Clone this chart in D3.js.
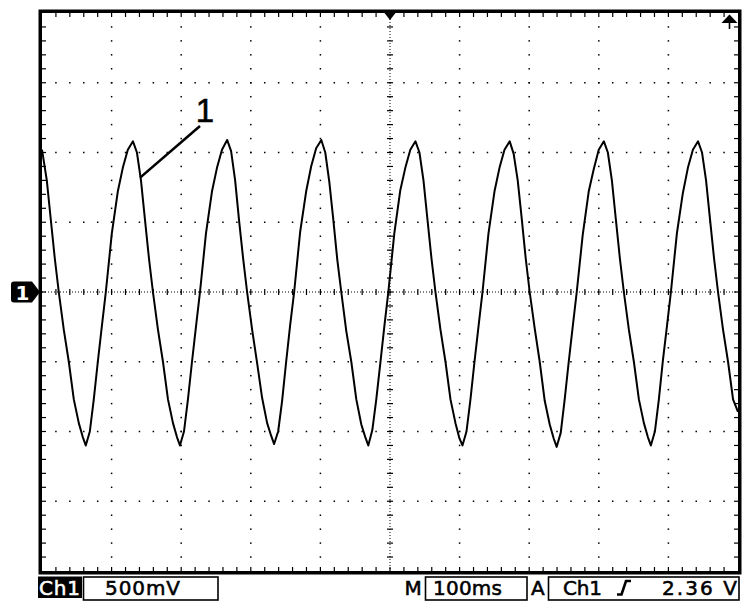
<!DOCTYPE html>
<html><head><meta charset="utf-8">
<script src="https://cdn.jsdelivr.net/npm/d3@7"></script>
<style>html,body{margin:0;padding:0;background:#fff;} svg{display:block;}</style>
</head><body>
<svg id="c" width="750" height="613"></svg>
<script>
// ---- data (time in ms from left edge, volts) ----
const sampleTimesMs = [
  0, 6.9, 12.6, 18.4, 24.1, 31.3, 38.5, 45.7, 52.9, 58.6, 62.9, 68.7, 74.4, 80.2, 85.9, 91.7, 100.3, 108.9, 116.1, 123.3,
  130.7, 136.4, 142.2, 147.9, 153.7, 159.4, 166.6, 173.8, 181.0, 188.2, 193.9, 198.2, 204.0, 209.7, 215.5, 221.2, 227.0, 235.6, 244.2, 251.4, 258.6,
  266.0, 271.7, 277.5, 283.2, 289.0, 294.7, 301.9, 309.1, 316.3, 323.5, 329.2, 333.5, 339.3, 345.0, 350.8, 356.5, 362.3, 370.9, 379.5, 386.7, 393.9,
  401.3, 407.0, 412.8, 418.5, 424.3, 430.0, 437.2, 444.4, 451.6, 458.8, 464.5, 468.8, 474.6, 480.3, 486.1, 491.8, 497.6, 506.2, 514.8, 522.0, 529.2,
  536.6, 542.3, 548.1, 553.8, 559.6, 565.3, 572.5, 579.7, 586.9, 594.1, 599.8, 604.1, 609.9, 615.6, 621.4, 627.1, 632.9, 641.5, 650.1, 657.3, 664.5,
  672.0, 677.7, 683.5, 689.2, 695.0, 700.7, 707.9, 715.1, 722.3, 729.5, 735.2, 739.5, 745.3, 751.0, 756.8, 762.5, 768.3, 776.9, 785.5, 792.7, 799.9,
  807.3, 813.0, 818.8, 824.5, 830.3, 836.0, 843.2, 850.4, 857.6, 864.8, 870.5, 874.8, 880.6, 886.3, 892.1, 897.8, 903.6, 912.2, 920.8, 928.0, 935.2,
  942.6, 948.3, 954.1, 959.8, 965.6, 971.3, 978.5, 985.7, 992.9, 1000
];
const sampleVolts = [
  1.02, 0.80, 0.52, 0.24, 0, -0.27, -0.50, -0.77, -0.94, -1.04, -1.10, -1.00, -0.77, -0.50, -0.25, 0, 0.42, 0.72, 0.89, 1.02,
  1.08, 1.00, 0.80, 0.52, 0.24, 0, -0.27, -0.50, -0.77, -0.94, -1.04, -1.10, -1.00, -0.77, -0.50, -0.25, 0, 0.42, 0.72, 0.89, 1.02,
  1.09, 1.01, 0.80, 0.51, 0.24, 0, -0.27, -0.51, -0.76, -0.94, -1.03, -1.09, -1.00, -0.78, -0.50, -0.24, 0, 0.43, 0.72, 0.90, 1.03,
  1.09, 1.00, 0.79, 0.52, 0.23, 0, -0.28, -0.50, -0.77, -0.95, -1.04, -1.10, -0.99, -0.77, -0.51, -0.25, 0, 0.42, 0.73, 0.89, 1.02,
  1.08, 1.00, 0.80, 0.52, 0.24, 0, -0.27, -0.50, -0.77, -0.94, -1.05, -1.10, -1.00, -0.77, -0.50, -0.25, 0, 0.42, 0.72, 0.89, 1.02,
  1.08, 0.99, 0.80, 0.53, 0.24, 0, -0.26, -0.50, -0.78, -0.95, -1.05, -1.11, -1.01, -0.77, -0.50, -0.25, 0, 0.41, 0.72, 0.88, 1.02,
  1.08, 1.00, 0.80, 0.52, 0.24, 0, -0.27, -0.50, -0.77, -0.94, -1.04, -1.10, -1.00, -0.77, -0.49, -0.25, 0, 0.42, 0.71, 0.89, 1.02,
  1.08, 1.00, 0.80, 0.52, 0.24, 0, -0.27, -0.50, -0.77, -0.86
];
const timeDomainMs = [0, 1000];
const voltDomain = [-2, 2];
const timeDivisions = 10, voltDivisions = 8, subdivisions = 5;
const channelLabel = "Ch1";
const voltsPerDivLabel = "500mV";
const timebaseMark = "M";
const timebaseLabel = "100ms";
const triggerMark = "A";
const trigSourceLabel = "Ch1";
const trigLevelLabel = "2.36 V";
const traceLabel = "1";

// ---- drawing ----
const svg = d3.select("#c");
const L = 42, R = 738, T = 13, B = 571;
const x = d3.scaleLinear().domain(timeDomainMs).range([L, R]);
const y = d3.scaleLinear().domain(voltDomain).range([B, T]);
const tStep = (timeDomainMs[1] - timeDomainMs[0]) / timeDivisions;
const vStep = (voltDomain[1] - voltDomain[0]) / voltDivisions;
const majorT = d3.range(timeDivisions + 1).map(i => timeDomainMs[0] + i * tStep);
const majorV = d3.range(voltDivisions + 1).map(i => voltDomain[0] + i * vStep);
const minorT = d3.range(timeDivisions * subdivisions + 1).map(i => timeDomainMs[0] + i * tStep / subdivisions);
const minorV = d3.range(voltDivisions * subdivisions + 1).map(i => voltDomain[0] + i * vStep / subdivisions);
const tMid = (timeDomainMs[0] + timeDomainMs[1]) / 2, vMid = 0;

const grid = svg.append("g").attr("fill", "#000");
majorT.slice(1, -1).filter(t => t !== tMid).forEach(t => {
  grid.selectAll(null).data(minorV.slice(1, -1)).join("rect")
    .attr("x", x(t) - 0.75).attr("y", d => y(d) - 0.75).attr("width", 1.5).attr("height", 1.5);
});
majorV.slice(1, -1).filter(v => v !== vMid).forEach(v => {
  grid.selectAll(null).data(minorT.slice(1, -1)).join("rect")
    .attr("x", d => x(d) - 0.75).attr("y", y(v) - 0.75).attr("width", 1.5).attr("height", 1.5);
});
const cross = svg.append("g").attr("stroke", "#000");
cross.append("line").attr("x1", L).attr("x2", R).attr("y1", y(vMid)).attr("y2", y(vMid))
  .attr("stroke-width", 1).attr("stroke-dasharray", "1,2");
cross.append("line").attr("y1", T).attr("y2", B).attr("x1", x(tMid)).attr("x2", x(tMid))
  .attr("stroke-width", 1).attr("stroke-dasharray", "1,2");
cross.selectAll(".tx").data(minorT.slice(1, -1)).join("line")
  .attr("x1", d => x(d)).attr("x2", d => x(d)).attr("y1", y(vMid) - 3).attr("y2", y(vMid) + 3).attr("stroke-width", 1.2);
cross.selectAll(".ty").data(minorV.slice(1, -1)).join("line")
  .attr("y1", d => y(d)).attr("y2", d => y(d)).attr("x1", x(tMid) - 3).attr("x2", x(tMid) + 3).attr("stroke-width", 1.2);
const edge = svg.append("g").attr("stroke", "#000").attr("stroke-width", 1.2);
edge.selectAll(".et").data(minorT.slice(1, -1)).join("line")
  .attr("x1", d => x(d)).attr("x2", d => x(d)).attr("y1", T).attr("y2", T + 4);
edge.selectAll(".eb").data(minorT.slice(1, -1)).join("line")
  .attr("x1", d => x(d)).attr("x2", d => x(d)).attr("y1", B - 4).attr("y2", B);
edge.selectAll(".el").data(minorV.slice(1, -1)).join("line")
  .attr("y1", d => y(d)).attr("y2", d => y(d)).attr("x1", L).attr("x2", L + 4);
edge.selectAll(".er").data(minorV.slice(1, -1)).join("line")
  .attr("y1", d => y(d)).attr("y2", d => y(d)).attr("x1", R - 4).attr("x2", R);

// trace
const pts = sampleTimesMs.map((t, i) => [t, sampleVolts[i]]);
svg.append("path").datum(pts)
  .attr("fill", "none").attr("stroke", "#000").attr("stroke-width", 2).attr("stroke-linejoin", "round")
  .attr("d", d3.line().x(d => x(d[0])).y(d => y(d[1])));

// frame
svg.append("rect").attr("x", L - 1.75).attr("y", T - 1.75).attr("width", R - L + 3.5).attr("height", B - T + 3.5)
  .attr("fill", "none").attr("stroke", "#000").attr("stroke-width", 3.5);

// top markers
svg.append("path").attr("d", `M${x(tMid) - 5.5},${T} L${x(tMid) + 5.5},${T} L${x(tMid)},${T + 7} Z`).attr("fill", "#000");
const ax = x(timeDomainMs[1]) - 8.5;
svg.append("path").attr("d", `M${ax},${T + 1.5} L${ax + 8},${T + 10} L${ax - 8},${T + 10} Z`).attr("fill", "#000");
svg.append("line").attr("x1", ax).attr("x2", ax).attr("y1", T + 9).attr("y2", T + 16).attr("stroke", "#000").attr("stroke-width", 1.6);

// channel ground marker
const gy = y(vMid);
svg.append("path").attr("d", `M14,${gy - 10.5} H32 L40,${gy} L32,${gy + 10.5} H14 Q11,${gy + 10.5} 11,${gy + 7.5} V${gy - 7.5} Q11,${gy - 10.5} 14,${gy - 10.5} Z`).attr("fill", "#000");
svg.append("text").attr("x", 22.5).attr("y", gy + 7.5).attr("text-anchor", "middle")
  .attr("font-family", "DejaVu Sans").attr("font-weight", "bold").attr("font-size", 20).attr("fill", "#fff").text(traceLabel);

// annotation "1"
svg.append("line").attr("x1", x(141)).attr("y1", y(0.82)).attr("x2", x(227)).attr("y2", y(1.19))
  .attr("stroke", "#000").attr("stroke-width", 2.6);
svg.append("text").attr("x", x(234)).attr("y", y(1.22)).attr("text-anchor", "middle")
  .attr("font-family", "Liberation Sans, Arial, sans-serif").attr("font-size", 33).attr("fill", "#000")
  .attr("stroke", "#000").attr("stroke-width", 0.6).text(traceLabel);

// status bar
function txt(s, xx, opts = {}) {
  const col = opts.fill || "#000";
  const t = svg.append("text").attr("x", xx).attr("y", 595).attr("font-family", "DejaVu Sans").attr("font-size", 20)
    .attr("fill", col).attr("stroke", col).attr("stroke-width", 0.55).text(s);
  if (opts.len) t.attr("textLength", opts.len).attr("lengthAdjust", "spacing");
  return t;
}
function box(x0, x1) {
  svg.append("rect").attr("x", x0).attr("y", 577).attr("width", x1 - x0).attr("height", 23)
    .attr("fill", "none").attr("stroke", "#000").attr("stroke-width", 1.6);
}
svg.append("rect").attr("x", 38).attr("y", 576.5).attr("width", 44).attr("height", 21.5).attr("fill", "#000");
txt(channelLabel, 39, { fill: "#fff", len: 41 });
box(83.5, 218);
txt(voltsPerDivLabel, 105, { len: 75 });
txt(timebaseMark, 404.5);
box(425.5, 527);
txt(timebaseLabel, 433, { len: 69 });
txt(triggerMark, 531);
box(548.5, 739);
txt(trigSourceLabel, 563, { len: 39 });
svg.append("path").attr("d", "M617,594.5 H621.5 L626,581 H631").attr("fill", "none").attr("stroke", "#000").attr("stroke-width", 2.6);
txt(trigLevelLabel, 662, { len: 75 });
</script>
</body></html>
